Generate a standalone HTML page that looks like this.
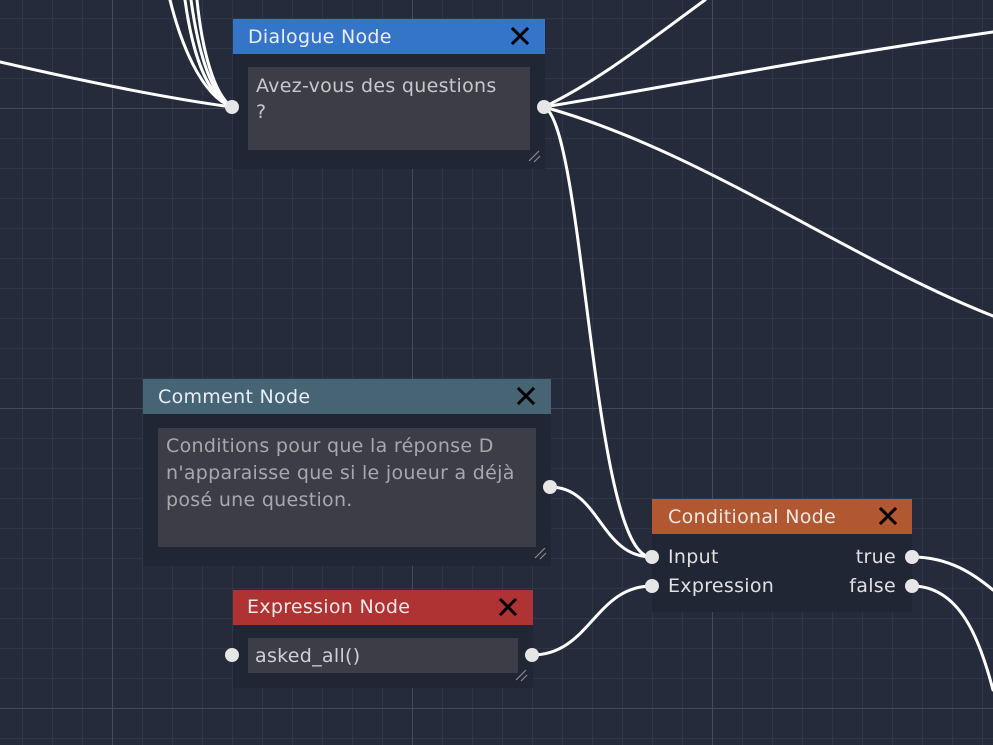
<!DOCTYPE html>
<html><head><meta charset="utf-8"><style>
html,body{margin:0;padding:0;background:#252b3a;}
svg{display:block;}
text{font-family:"DejaVu Sans","Liberation Sans",sans-serif;letter-spacing:0.3px;}
</style></head><body>
<svg width="993" height="745" viewBox="0 0 993 745" xmlns="http://www.w3.org/2000/svg">
<defs>
<pattern id="minor" x="22" y="18" width="30" height="30" patternUnits="userSpaceOnUse">
<path d="M0.5 0V30M0 0.5H30" stroke="#2f3647" stroke-width="1" fill="none"/>
</pattern>
<pattern id="major" x="112" y="108" width="300" height="300" patternUnits="userSpaceOnUse">
<path d="M0.5 0V300M0 0.5H300" stroke="#434a5c" stroke-width="1" fill="none"/>
</pattern>
</defs>
<rect width="993" height="745" fill="#252b3a"/>
<rect width="993" height="745" fill="url(#minor)"/>
<rect width="993" height="745" fill="url(#major)"/>

<g stroke="#fff" stroke-width="3" fill="none" stroke-linecap="round">
<path d="M0 62 C100 85 180 100 232 107"/>
<path d="M170 0 C180 40 200 95 232 107"/>
<path d="M185 0 C192 50 205 95 232 107"/>
<path d="M191 0 C198 50 210 95 232 107"/>
<path d="M197 0 C202 50 214 95 232 107"/>
<path d="M544 107 C600 80 650 40 705 0"/>
<path d="M544 107 C650 90 800 60 993 32"/>
<path d="M544 107 C700 150 850 260 993 316"/>
<path d="M544 107 C585 125 592 560 652 557"/>
<path d="M550 487 C600 487 600 557 652 557"/>
<path d="M532 655 C590 655 595 586 652 586"/>
<path d="M912 557 C950 557 975 575 993 590"/>
<path d="M912 586 C960 586 980 640 993 690"/>
</g>

<!-- Dialogue node -->
<rect x="233" y="19" width="312" height="150" fill="#212634"/>
<rect x="233" y="19" width="312" height="35" fill="#3575c9"/>
<text x="248" y="43" font-size="19" fill="#e8eef8">Dialogue Node</text>
<rect x="248" y="67" width="282" height="83" fill="#3d3d47"/>
<text x="256" y="92" font-size="19" fill="#c8c8cc">Avez-vous des questions</text>
<text x="256" y="118" font-size="19" fill="#c8c8cc">?</text>

<!-- Comment node -->
<rect x="143" y="379" width="408" height="187" fill="#212634"/>
<rect x="143" y="379" width="408" height="35" fill="#466474"/>
<text x="158" y="403" font-size="19" fill="#e8eef8">Comment Node</text>
<rect x="158" y="428" width="378" height="119" fill="#3d3d47"/>
<text x="166" y="452" font-size="19" fill="#a8a8ac">Conditions pour que la réponse D</text>
<text x="166" y="479" font-size="19" fill="#a8a8ac">n'apparaisse que si le joueur a déjà</text>
<text x="166" y="506" font-size="19" fill="#a8a8ac">posé une question.</text>

<!-- Expression node -->
<rect x="233" y="590" width="300" height="98" fill="#212634"/>
<rect x="233" y="590" width="300" height="35" fill="#b03333"/>
<text x="247" y="613" font-size="19" fill="#f0e8e8">Expression Node</text>
<rect x="248" y="638" width="270" height="35" fill="#3d3d47"/>
<text x="255" y="662" font-size="19" fill="#d0d0d4">asked_all()</text>

<!-- Conditional node -->
<rect x="652" y="499" width="260" height="113" fill="#212634"/>
<rect x="652" y="499" width="260" height="35" fill="#b15731"/>
<text x="668" y="523" font-size="19" fill="#f4e8e0">Conditional Node</text>
<text x="668" y="563" font-size="19" fill="#e0e0e4">Input</text>
<text x="668" y="592" font-size="19" fill="#e0e0e4">Expression</text>
<text x="896" y="563" font-size="19" fill="#e0e0e4" text-anchor="end">true</text>
<text x="896" y="592" font-size="19" fill="#e0e0e4" text-anchor="end">false</text>

<!-- close X -->
<g stroke="#000" stroke-width="3" stroke-linecap="square">
<path d="M513 29 L527 43 M527 29 L513 43"/>
<path d="M519 389 L533 403 M533 389 L519 403"/>
<path d="M501 600 L515 614 M515 600 L501 614"/>
<path d="M881 509 L895 523 M895 509 L881 523"/>
</g>

<g stroke="#8a8a90" stroke-width="1.2">
<path d="M529 161 L539 151 M534 162 L540 156"/>
<path d="M535 558 L545 548 M540 559 L546 553"/>
<path d="M516 680 L526 670 M521 681 L527 675"/>
</g>

<g fill="#e6e6e6">
<circle cx="232" cy="107" r="7"/>
<circle cx="544" cy="107" r="7"/>
<circle cx="550" cy="487" r="7"/>
<circle cx="232" cy="655" r="7"/>
<circle cx="532" cy="655" r="7"/>
<circle cx="652" cy="557" r="7"/>
<circle cx="652" cy="586" r="7"/>
<circle cx="912" cy="557" r="7"/>
<circle cx="912" cy="586" r="7"/>
</g>
</svg>
</body></html>
